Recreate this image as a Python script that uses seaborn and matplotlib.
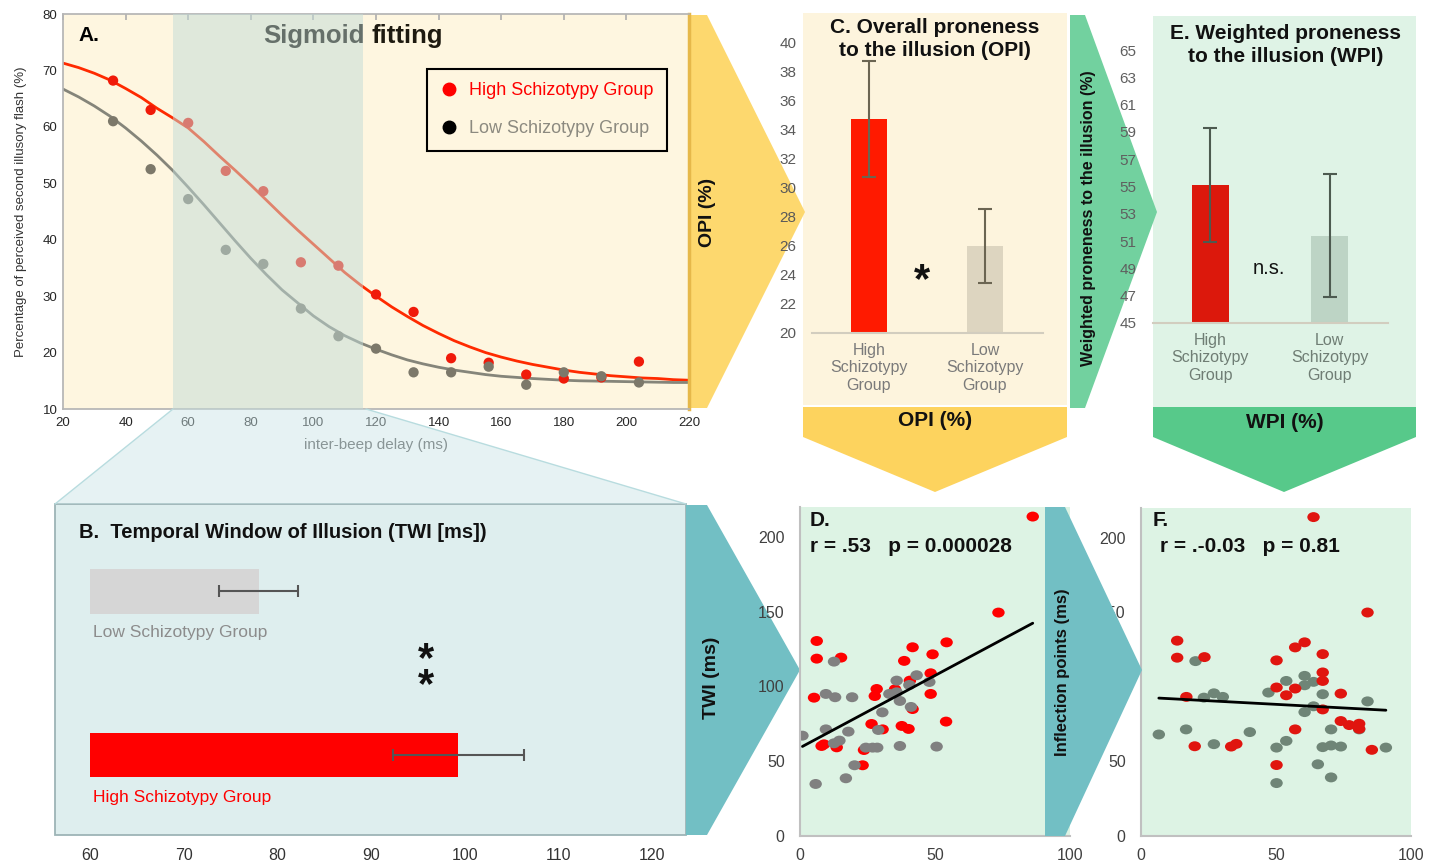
import numpy as np
import pandas as pd
import matplotlib
matplotlib.use("Agg")
import matplotlib.pyplot as plt
import seaborn as sns
from matplotlib.patches import Polygon, Rectangle
from matplotlib.lines import Line2D
from matplotlib.path import Path
from matplotlib.transforms import Affine2D

sns.set_theme(style="white")
plt.rcParams["font.family"] = ["Liberation Sans", "DejaVu Sans"]

W, H = 1430, 865

# --- A: sigmoid fitting ---
delays = [36, 48, 60, 72, 84, 96, 108, 120, 132, 144, 156, 168, 180, 192, 204]
high_pct = [68.2, 63.0, 60.7, 52.2, 48.6, 36.0, 35.4, 30.3, 27.2, 19.0, 18.2, 16.1, 15.4, 15.6, 18.4]
low_pct = [61.0, 52.5, 47.2, 38.2, 35.7, 27.8, 22.9, 20.7, 16.5, 16.5, 17.5, 14.3, 16.5, 15.8, 14.7]
# fitted curves, read every 5 ms
fit_delay = list(range(20, 221, 5))
high_fit = [71.3, 70.5, 69.5, 68.3, 66.8, 65.2, 63.3, 61.6, 59.8, 57.4, 54.8, 52.3, 49.7, 47.0, 44.3,
            41.7, 39.2, 36.7, 34.2, 32.0, 30.0, 28.1, 26.4, 24.8, 23.4, 22.1, 21.0, 20.0, 19.2, 18.5,
            17.9, 17.4, 16.9, 16.5, 16.2, 15.9, 15.7, 15.5, 15.4, 15.2, 15.1]
low_fit = [66.7, 65.3, 63.7, 61.9, 59.8, 57.5, 55.0, 52.3, 49.3, 46.2, 43.0, 39.8, 36.7, 33.8, 31.1,
           28.8, 26.5, 24.6, 23.0, 21.7, 20.6, 19.6, 18.7, 18.0, 17.4, 16.9, 16.5, 16.1, 15.8, 15.6,
           15.4, 15.25, 15.1, 15.0, 14.95, 14.9, 14.85, 14.8, 14.75, 14.7, 14.7]
window = [55, 116]

# --- B: temporal window of illusion ---
twi_groups = ["Low Schizotypy Group", "High Schizotypy Group"]
twi_mean = [78.0, 99.3]
twi_err = [4.2, 7.0]

# --- C / E: proneness bars ---
bar_groups = ["High\nSchizotypy\nGroup", "Low\nSchizotypy\nGroup"]
opi_mean = [34.7, 26.0]
opi_err = [4.0, 2.55]
wpi_mean = [55.1, 51.4]
wpi_err = [4.2, 4.5]

# --- D: OPI vs TWI ---
d_high_x = [86.2, 73.5, 6.2, 6.2, 15.2, 5.2, 41.7, 54.3, 38.6, 49.1, 48.4, 40.7, 28.4, 27.7, 35.2,
            48.4, 41.7, 26.5, 30.6, 37.7, 40.2, 54.1, 8.0, 13.6, 23.7, 23.2, 8.9]
d_high_y = [213.6, 149.4, 130.4, 118.6, 119.3, 92.5, 126.2, 129.5, 117.1, 121.5, 108.8, 103.9, 98.3, 93.6, 98.1,
            95.0, 84.9, 74.9, 71.3, 73.6, 71.6, 76.5, 60.2, 59.3, 57.5, 47.3, 61.3]
d_low_x = [12.6, 9.6, 13.0, 19.3, 0.9, 9.6, 17.9, 12.6, 14.6, 5.8, 17.0, 20.2, 24.4, 26.9, 28.6,
           30.5, 29.0, 33.1, 35.8, 35.8, 37.0, 40.5, 43.2, 47.9, 41.1, 37.0, 50.6]
d_low_y = [116.6, 95.0, 92.8, 92.8, 67.1, 71.3, 69.8, 62.0, 63.8, 34.8, 38.6, 47.3, 59.1, 59.1, 59.1,
           82.7, 70.9, 95.0, 103.9, 96.1, 90.3, 101.0, 107.5, 103.0, 86.3, 60.2, 59.8]

# --- F: WPI vs inflection points ---
f_high_x = [63.9, 83.9, 13.4, 13.4, 23.5, 16.8, 19.9, 33.4, 35.3, 50.2, 57.1, 60.6, 67.3, 67.3, 67.3,
            50.2, 53.8, 57.1, 74.0, 67.3, 57.1, 74.0, 77.1, 80.8, 80.8, 85.5, 50.2]
f_high_y = [213.9, 149.9, 131.0, 119.6, 120.0, 93.3, 60.2, 60.0, 61.8, 117.8, 126.5, 129.9, 122.0, 109.7, 104.0,
            99.6, 94.4, 98.9, 95.5, 84.9, 71.5, 77.1, 74.4, 75.3, 71.9, 57.8, 47.6]
f_low_x = [20.2, 6.6, 16.7, 23.3, 27.0, 30.3, 27.0, 40.3, 47.2, 53.8, 60.6, 60.6, 63.9, 67.3, 63.9,
           60.6, 83.9, 50.2, 53.8, 70.4, 67.3, 70.4, 74.0, 80.8, 90.7, 65.5, 70.4, 50.2]
f_low_y = [117.3, 68.1, 71.5, 92.8, 95.7, 93.3, 61.6, 69.7, 96.2, 104.0, 107.4, 101.1, 103.4, 95.1, 87.0,
           83.1, 90.3, 59.3, 63.8, 71.5, 59.6, 60.7, 60.0, 71.5, 59.3, 48.1, 39.3, 35.5]


def box(x0, y0, x1, y1):
    return [x0 / W, 1 - y1 / H, (x1 - x0) / W, (y1 - y0) / H]


def shape(ax, pts, color, **kw):
    ax.add_patch(Polygon(pts, closed=True, facecolor=color, edgecolor="none", **kw))


fig = plt.figure(figsize=(14.3, 8.65), dpi=100)

# background layer, pixel coordinates
bg = fig.add_axes([0, 0, 1, 1], zorder=0)
bg.set_xlim(0, W)
bg.set_ylim(H, 0)
bg.axis("off")
bg.add_patch(Rectangle((803, 13), 264, 392, facecolor="#fdf4dd", edgecolor="none"))
bg.add_patch(Rectangle((1153, 16), 263, 391, facecolor="#dff3e6", edgecolor="none"))
bg.add_patch(Rectangle((55, 504), 631, 331, facecolor="#deeeee", edgecolor="#9db4b6", lw=1.3))
shape(bg, [(688, 15), (707, 15), (805, 212), (707, 408), (688, 408)], "#fdd86e")
shape(bg, [(803, 407), (1067, 407), (1067, 437), (935, 492), (803, 437)], "#fdd35e")
shape(bg, [(1070, 15), (1085, 15), (1157, 212), (1085, 408), (1070, 408)], "#72d19f")
shape(bg, [(1153, 407), (1416, 407), (1416, 437), (1284, 492), (1153, 437)], "#57c98a")
shape(bg, [(686, 505), (707, 505), (800, 670), (707, 835), (686, 835)], "#72bfc4")
bold = dict(fontweight="bold", color="#111111", ha="center", va="center")
bg.text(708, 212, "OPI (%)", rotation=90, fontsize=14, **bold)
bg.text(935, 39, "C. Overall proneness\nto the illusion (OPI)", fontsize=15, linespacing=1.3, **bold)
bg.text(935, 421, "OPI (%)", fontsize=15, **bold)
bg.text(1089, 218, "Weighted proneness to the illusion (%)", rotation=90, fontsize=11.5, **bold)
bg.text(1286, 45, "E. Weighted proneness\nto the illusion (WPI)", fontsize=15, linespacing=1.3, **bold)
bg.text(1285, 423, "WPI (%)", fontsize=15, **bold)
bg.text(712, 678, "TWI (ms)", rotation=90, fontsize=14, **bold)
bg.text(79, 532, "B.  Temporal Window of Illusion (TWI [ms])", fontsize=14.5, fontweight="bold",
        color="#111111", ha="left", va="center")

# ---- A ----
axA = fig.add_axes(box(63, 14, 689, 409), zorder=1)
axA.set_facecolor("#fef6e0")
sns.lineplot(x=fit_delay, y=high_fit, color="#ff2a00", lw=2, ax=axA, zorder=2)
sns.lineplot(x=fit_delay, y=low_fit, color="#85857a", lw=2, ax=axA, zorder=2)
sns.scatterplot(x=delays, y=high_pct, color="#f01a0a", s=55, edgecolor="none", ax=axA, zorder=2.5)
sns.scatterplot(x=delays, y=low_pct, color="#7c786a", s=55, edgecolor="none", ax=axA, zorder=2.5)
axA.axvspan(window[0], window[1], color="#c2dcd8", alpha=0.5, lw=0, zorder=3)
axA.set_xlim(20, 220)
axA.set_ylim(10, 80)
axA.set_xticks(range(20, 221, 20))
axA.set_yticks(range(10, 81, 10))
axA.tick_params(direction="in", top=True, length=4, color="#b0b0b0", labelsize=9.5,
                labelcolor="#262626")
axA.tick_params(axis="x", pad=6)
axA.tick_params(axis="y", pad=4)
for side in ["left", "bottom", "top"]:
    axA.spines[side].set_color("#b5b5b5")
axA.spines["right"].set_color("#e6b84a")
axA.spines["right"].set_linewidth(2.5)
axA.set_xlabel("inter-beep delay (ms)", fontsize=11, color="#555555", labelpad=6)
axA.set_ylabel("Percentage of perceived second illusory flash (%)", fontsize=9.5, color="#333333",
               labelpad=11)
axA.text(24.8, 76.2, "A.", fontsize=15, fontweight="bold", color="black", va="center", zorder=4)
axA.text(116.4, 76.1, "Sigmoid", fontsize=18.5, fontweight="bold", color="#66706a", ha="right",
         va="center", zorder=4)
axA.text(118.6, 76.1, "fitting", fontsize=18.5, fontweight="bold", color="#1e1a10", ha="left",
         va="center", zorder=4)
handles = [Line2D([], [], marker="o", ls="", color="#ff0000", ms=9),
           Line2D([], [], marker="o", ls="", color="black", ms=9)]
leg = axA.legend(handles, ["High Schizotypy Group", "Low Schizotypy Group"], loc="upper left",
                 bbox_to_anchor=(0.581, 0.861), fancybox=False, edgecolor="black",
                 facecolor="#fef6e0", framealpha=1, fontsize=13, labelspacing=1.15, borderpad=0.75,
                 handlelength=1.0, handletextpad=0.6, borderaxespad=0)
leg.get_frame().set_linewidth(1.5)
leg.set_zorder(5)
leg.get_texts()[0].set_color("#ff0000")
leg.get_texts()[1].set_color("#8c8a80")

# ---- B ----
axB = fig.add_axes(box(90, 504, 686, 835), zorder=1)
axB.set_facecolor("none")
sns.barplot(x=twi_mean, y=twi_groups, hue=twi_groups, palette=["#d6d6d6", "#ff0000"], orient="h",
            width=0.27, saturation=1, errorbar=None, legend=False, linewidth=0, ax=axB)
axB.errorbar(twi_mean, [0, 1], xerr=twi_err, fmt="none", ecolor="#555555", elinewidth=1.5,
             capsize=4, capthick=1.5)
axB.set_xlim(60, 123.6)
axB.set_ylim(1.49, -0.535)
axB.set_xticks(range(60, 121, 10))
axB.set_yticks([])
axB.set_xlabel("")
axB.set_ylabel("")
axB.tick_params(axis="x", length=0, labelsize=11.5, labelcolor="#333333", pad=9)
sns.despine(ax=axB, left=True, bottom=True)
axB.text(60.3, 0.25, twi_groups[0], color="#8c8c8c", fontsize=12.5, va="center")
axB.text(60.3, 1.26, twi_groups[1], color="#ff0000", fontsize=12.5, va="center")
axB.text(95.9, 0.50, "*\n*", fontsize=30, fontweight="bold", ha="center", va="center",
         linespacing=0.55, color="#111111")


def proneness(ax, means, errs, colors, ecolor, ylo, yhi, lblcolor, catcolor, pad):
    ax.set_facecolor("none")
    sns.barplot(x=bar_groups, y=means, hue=bar_groups, palette=colors, width=0.31, saturation=1,
                errorbar=None, legend=False, linewidth=0, ax=ax)
    ax.errorbar([0, 1], means, yerr=errs, fmt="none", ecolor=ecolor, elinewidth=1.5, capsize=5,
                capthick=1.5)
    ax.set_ylim(ylo, yhi)
    ax.set_xlim(-0.49, 1.5)
    ax.set_yticks(range(ylo, yhi + 1, 2))
    ax.tick_params(axis="y", length=0, labelsize=11, labelcolor=lblcolor, pad=pad)
    ax.tick_params(axis="x", length=0, labelsize=11.5, labelcolor=catcolor, pad=7)
    for t in ax.get_xticklabels():
        t.set_linespacing(1.2)
    sns.despine(ax=ax, left=True)
    ax.spines["bottom"].set_color("#d2cdbf")
    ax.spines["bottom"].set_linewidth(1.5)


# ---- C ----
axC = fig.add_axes(box(812, 42, 1043, 333), zorder=1)
proneness(axC, opi_mean, opi_err, ["#ff1a00", "#ddd5c0"], "#6b6552", 20, 40, "#595959", "#7a7a7a", 11)
axC.text(0.457, 23.6, "*", fontsize=30, fontweight="bold", ha="center", va="center", color="#111111")

# ---- E ----
axE = fig.add_axes(box(1153, 50, 1388, 323), zorder=1)
proneness(axE, wpi_mean, wpi_err, ["#dc180c", "#bdd4c5"], "#4d5a50", 45, 65, "#5f5f5f", "#6f7d74", 12)
axE.set_xlim(-0.48, 1.49)
axE.text(0.49, 49.0, "n.s.", fontsize=14.5, ha="center", va="center", color="#111111")

# ---- D / F scatter ----
ell = Path.unit_circle().transformed(Affine2D().scale(1.25, 1.0))


def scatter_panel(ax, df, pal, red_on_top):
    ax.set_facecolor("#ddf3e4")
    order = ["Low", "High"] if red_on_top else ["High", "Low"]
    df = pd.concat([df[df.group == g] for g in order])
    sns.scatterplot(data=df, x="x", y="y", hue="group", palette=pal, s=80, marker=ell,
                    linewidth=0, legend=False, ax=ax)
    sns.regplot(data=df, x="x", y="y", scatter=False, ci=None, truncate=True, color="black",
                line_kws={"lw": 2}, ax=ax)
    ax.set_xlim(0, 100)
    ax.set_ylim(0, 220)
    ax.set_xticks([0, 50, 100])
    ax.set_yticks([0, 50, 100, 150, 200])
    ax.set_xlabel("")
    ax.set_ylabel("")
    ax.tick_params(length=0, labelsize=11.5, labelcolor="#404040")
    ax.tick_params(axis="y", pad=11)
    ax.tick_params(axis="x", pad=9)
    sns.despine(ax=ax)
    for side in ["left", "bottom"]:
        ax.spines[side].set_color("#c0c0c0")
        ax.spines[side].set_linewidth(1.5)


dfD = pd.DataFrame({"x": d_high_x + d_low_x, "y": d_high_y + d_low_y,
                    "group": ["High"] * len(d_high_x) + ["Low"] * len(d_low_x)})
axD = fig.add_axes(box(800, 507, 1070, 836), zorder=1)
scatter_panel(axD, dfD, {"High": "#ff0000", "Low": "#808080"}, False)

dfF = pd.DataFrame({"x": f_high_x + f_low_x, "y": f_high_y + f_low_y,
                    "group": ["High"] * len(f_high_x) + ["Low"] * len(f_low_x)})
axF = fig.add_axes(box(1141, 508, 1411, 836), zorder=1)
scatter_panel(axF, dfF, {"High": "#e0150f", "Low": "#6f8577"}, True)

# overlay layer
ov = fig.add_axes([0, 0, 1, 1], zorder=10)
ov.set_xlim(0, W)
ov.set_ylim(H, 0)
ov.axis("off")
ov.patch.set_alpha(0)
shape(ov, [(173, 409), (366, 409), (686, 504), (55, 504)], "#c9e4e6", alpha=0.45)
ov.plot([173, 55], [409, 504], color="#b8dcdf", lw=1)
ov.plot([366, 686], [409, 504], color="#b8dcdf", lw=1)
shape(ov, [(1045, 507), (1065, 507), (1142, 670), (1065, 836), (1045, 836)], "#72bfc4")
ov.text(1062, 672, "Inflection points (ms)", rotation=90, fontsize=12, **bold)
left = dict(fontweight="bold", color="#111111", ha="left", va="center", fontsize=15)
ov.text(810, 520, "D.", **left)
ov.text(810, 546, "r = .53   p = 0.000028", **left)
ov.text(1153, 520, "F.", **left)
ov.text(1160, 546, "r = .-0.03   p = 0.81", **left)

fig.savefig("out.png", dpi=100)
